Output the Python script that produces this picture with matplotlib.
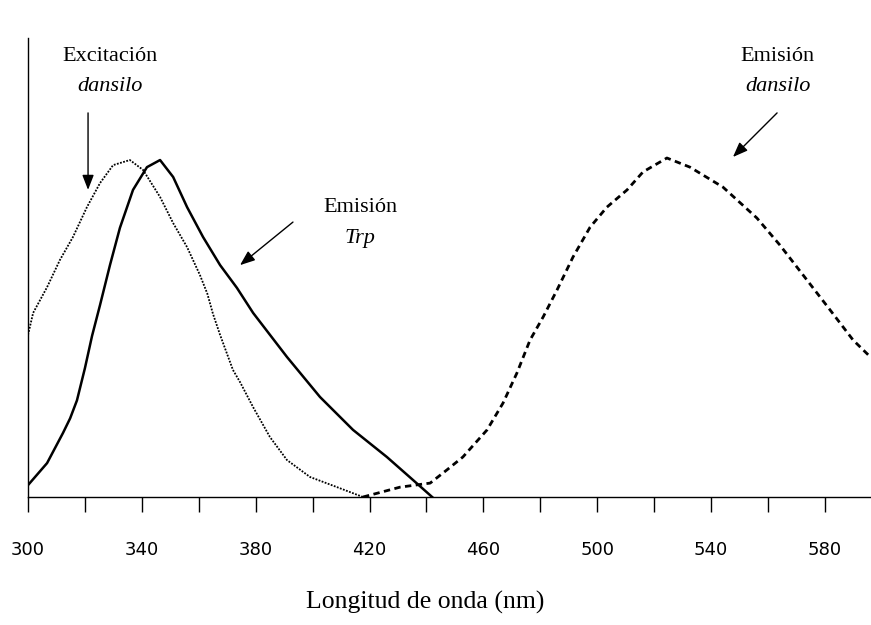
import matplotlib.pyplot as plt
import numpy as np

# Excitacion dansilo (punteada)
exc_dans_x = [300.0, 301.8, 306.7, 311.2, 315.8, 320.7, 325.3, 329.9, 335.8, 340.4,
              346.4, 351.0, 355.9, 360.4, 363.0, 365.0, 367.5, 372.0, 374.5, 379.1,
              385.0, 391.0, 399.1, 408.6, 417.7]
exc_dans_y = [0.478, 0.543, 0.619, 0.699, 0.767, 0.855, 0.926, 0.979, 0.994, 0.965,
              0.885, 0.808, 0.737, 0.655, 0.600, 0.540, 0.478, 0.375, 0.339, 0.265,
              0.177, 0.109, 0.059, 0.029, 0.0]

# Emision Trp (continua)
em_trp_x = [300.0, 306.7, 312.3, 314.8, 317.2, 320.0, 322.5, 325.3, 328.8, 332.3,
            336.9, 341.8, 346.4, 351.0, 355.9, 361.5, 367.5, 373.4, 379.1, 391.0,
            402.6, 414.2, 426.1, 435.3, 442.0]
em_trp_y = [0.035, 0.100, 0.189, 0.232, 0.285, 0.380, 0.475, 0.566, 0.684, 0.794,
            0.906, 0.973, 0.994, 0.944, 0.855, 0.767, 0.684, 0.617, 0.543, 0.413,
            0.295, 0.198, 0.118, 0.050, 0.0]

# Emision dansilo (discontinua)
em_dans_x = [417.7, 430.7, 441.3, 447.2, 452.8, 461.3, 466.9, 471.8, 476.4, 481.0,
             485.9, 491.5, 497.5, 503.4, 510.5, 516.1, 524.5, 532.6, 544.2, 556.1,
             564.2, 573.7, 581.8, 589.9, 596.0]
em_dans_y = [0.0, 0.029, 0.041, 0.080, 0.118, 0.198, 0.277, 0.366, 0.463, 0.531,
             0.611, 0.708, 0.796, 0.855, 0.906, 0.959, 1.0, 0.973, 0.914, 0.823,
             0.743, 0.640, 0.552, 0.463, 0.413]

ticks_major = [300, 340, 380, 420, 460, 500, 540, 580]
ticks_minor = [320, 360, 400, 440, 480, 520, 560]

serif = 'Liberation Serif'

fig = plt.figure(figsize=(8.71, 6.25), dpi=100)
ax = fig.add_axes([28 / 871, 128 / 625, 843 / 871, 459 / 625])

ax.plot(exc_dans_x, exc_dans_y, color='black', lw=1.3, linestyle=(0, (1, 0.8)))
ax.plot(em_trp_x, em_trp_y, color='black', lw=1.8)
ax.plot(em_dans_x, em_dans_y, color='black', lw=2.0, linestyle=(0, (2.3, 1.6)))

ax.set_xlim(300, 596.2)
ax.set_ylim(0, 1.354)

for s in ['top', 'right']:
    ax.spines[s].set_visible(False)
ax.spines['left'].set_linewidth(1.0)
ax.spines['bottom'].set_linewidth(1.0)

ax.set_yticks([])
ax.set_xticks(ticks_major)
ax.set_xticks(ticks_minor, minor=True)
ax.tick_params(axis='x', which='both', direction='out', length=11, width=1.0)
ax.tick_params(axis='x', which='major', pad=21, labelsize=13)

ax.set_xlabel('Longitud de onda (nm)', fontfamily=serif, fontsize=18.5)
ax.xaxis.set_label_coords(0.471, -0.205)

# Anotaciones
fs = 16
ax.text(328.8, 1.298, 'Excitación', ha='center', va='center', fontfamily=serif, fontsize=fs)
ax.text(328.8, 1.212, 'dansilo', ha='center', va='center', fontfamily=serif, fontsize=fs, style='italic')
ax.text(563.5, 1.298, 'Emisión', ha='center', va='center', fontfamily=serif, fontsize=fs)
ax.text(563.5, 1.212, 'dansilo', ha='center', va='center', fontfamily=serif, fontsize=fs, style='italic')
ax.text(416.7, 0.855, 'Emisión', ha='center', va='center', fontfamily=serif, fontsize=fs)
ax.text(416.7, 0.762, 'Trp', ha='center', va='center', fontfamily=serif, fontsize=fs, style='italic')

arrow = dict(arrowstyle='-|>,head_length=0.9,head_width=0.35', color='black', lw=1.0,
             shrinkA=0, shrinkB=0)
ax.annotate('', xy=(321.1, 0.906), xytext=(321.1, 1.133), arrowprops=arrow)
ax.annotate('', xy=(374.5, 0.684), xytext=(393.1, 0.811), arrowprops=arrow)
ax.annotate('', xy=(547.7, 1.003), xytext=(563.2, 1.133), arrowprops=arrow)

fig.savefig('out.png', dpi=100)
